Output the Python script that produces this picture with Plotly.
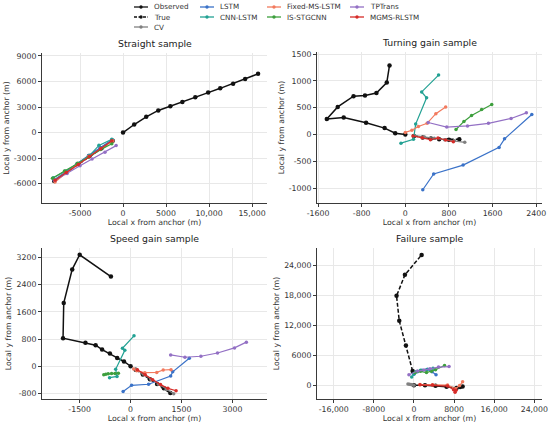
import plotly.graph_objects as go

# ---------------- data ----------------
SERIES = ["Observed", "True", "CV", "LSTM", "CNN-LSTM", "Fixed-MS-LSTM",
          "IS-STGCNN", "TPTrans", "MGMS-RLSTM"]

COLORS = {
    "Observed": "#111111", "True": "#111111", "CV": "#808080",
    "LSTM": "#3a72c8", "CNN-LSTM": "#22a193", "Fixed-MS-LSTM": "#f27a5e",
    "IS-STGCNN": "#3d9f3d", "TPTrans": "#9370c4", "MGMS-RLSTM": "#d62b28",
}

LEGEND_COLUMNS = [["Observed", "True", "CV"],
                  ["LSTM", "CNN-LSTM"],
                  ["Fixed-MS-LSTM", "IS-STGCNN"],
                  ["TPTrans", "MGMS-RLSTM"]]

PANEL_TITLES = ["Straight sample", "Turning gain sample",
                "Speed gain sample", "Failure sample"]

STRAIGHT = {
    "Observed": ([15700, 14200, 12800, 11300, 9900, 8400, 6900, 5500, 4100, 2700, 1300, 0],
                 [6900, 6300, 5750, 5200, 4700, 4150, 3600, 3100, 2600, 1850, 950, 0]),
    "True": ([-1200, -2500, -3900, -5200, -6600, -8000],
             [-950, -1850, -2750, -3700, -4700, -5700]),
    "CV": ([-1200, -2600, -4000, -5300, -6700, -8000],
           [-900, -1800, -2700, -3650, -4600, -5550]),
    "LSTM": ([-1300, -2700, -4000, -5400, -6700, -8000],
             [-850, -1800, -2700, -3700, -4700, -5600]),
    "CNN-LSTM": ([-1300, -2800, -3900, -5300, -6700, -8100],
                 [-780, -1500, -2700, -3700, -4500, -5300]),
    "Fixed-MS-LSTM": ([-1200, -2600, -4000, -5400, -6700, -7900],
                      [-1000, -1900, -2800, -3800, -4800, -5800]),
    "IS-STGCNN": ([-1300, -2600, -4000, -5300, -6800, -8200],
                  [-1300, -2000, -2900, -3600, -4500, -5370]),
    "TPTrans": ([-800, -2100, -3600, -5000, -6500, -7900],
                [-1530, -2300, -3100, -3900, -4800, -5600]),
    "MGMS-RLSTM": ([-1300, -2600, -3900, -5200, -6600, -7900],
                   [-950, -1900, -2800, -3750, -4700, -5600]),
}

TURNING = {
    "Observed": ([-290, -340, -530, -740, -950, -1240, -1440, -1130, -720, -380, -185, 0],
                 [1290, 970, 775, 730, 715, 515, 290, 320, 220, 120, 25, 0]),
    "True": ([160, 320, 470, 620, 800, 990],
             [-25, -55, -75, -90, -95, -90]),
    "CV": ([170, 350, 530, 720, 900, 1090],
           [-20, -45, -70, -95, -115, -145]),
    "LSTM": ([320, 520, 1060, 1720, 1820, 2320],
             [-1030, -735, -570, -240, -80, 375]),
    "CNN-LSTM": ([-80, 150, 190, 390, 300, 610],
                 [-160, -90, 195, 685, 795, 1110]),
    "Fixed-MS-LSTM": ([0, 120, 240, 400, 560, 740],
                      [40, 80, 150, 210, 390, 515]),
    "IS-STGCNN": ([930, 1075, 1215, 1400, 1585],
                  [95, 245, 355, 465, 560]),
    "TPTrans": ([420, 760, 1140, 1525, 1940, 2220],
                [225, 140, 160, 210, 300, 405]),
    "MGMS-RLSTM": ([140, 310, 460, 600, 740, 880],
                   [-25, -60, -95, -65, -100, -135]),
}

SPEED = {
    "Observed": ([-580, -1500, -1720, -1970, -1990, -1330, -1030, -840, -610, -395, -195, 0],
                 [2640, 3280, 2850, 1860, 825, 690, 620, 490, 375, 245, 140, 0]),
    "True": ([150, 360, 570, 780, 980, 1170],
             [-100, -240, -380, -520, -650, -790]),
    "CV": ([150, 370, 600, 820, 1050, 1270],
           [-90, -230, -390, -530, -680, -810]),
    "LSTM": ([-220, 30, 530, 1180, 1240, 1730],
             [-740, -560, -530, -285, -165, 235]),
    "CNN-LSTM": ([-620, -400, -440, -170, -240, 100],
                 [-335, -300, -90, 470, 530, 895]),
    "Fixed-MS-LSTM": ([90, 180, 420, 770, 960, 1190],
                      [-80, -130, -190, -180, -110, -100]),
    "IS-STGCNN": ([-790, -730, -660, -560, -460, -360],
                  [-250, -235, -220, -215, -210, -205]),
    "TPTrans": ([1180, 1600, 2070, 2560, 3060, 3410],
                [335, 265, 295, 390, 540, 710]),
    "MGMS-RLSTM": ([200, 430, 650, 880, 1100, 1340],
                   [-100, -250, -400, -540, -650, -720]),
}

FAILURE = {
    "Observed": ([9700, 9200, 8500, 6500, 4300, 2200, 0],
                 [-250, -350, -550, -300, -100, 0, 0]),
    "True": ([-270, -1600, -2930, -3470, -1800, 1530],
             [2870, 7950, 12900, 17900, 22100, 26100]),
    "CV": ([0, -300, -600, -900, -1200],
           [0, 80, 150, 200, 270]),
    "LSTM": ([0, 700, 1600, 2700, 3600, 4400],
             [2200, 2700, 3000, 3200, 2700, 2100]),
    "CNN-LSTM": ([-450, 0, 400, 1300, 2500, 3800],
                 [1650, 2300, 2700, 3000, 3100, 3400]),
    "Fixed-MS-LSTM": ([1200, 3700, 6700, 8300, 9100, 9700],
                      [150, 100, 50, -700, -50, 700]),
    "IS-STGCNN": ([200, 1300, 2500, 3500, 4300, 6100],
                  [2500, 2800, 2550, 2800, 3100, 3950]),
    "TPTrans": ([-1000, 700, 2000, 3200, 4900, 7000],
                [2100, 2850, 3050, 3300, 3650, 3750]),
    "MGMS-RLSTM": ([1200, 3700, 6700, 7900, 8200, 8400],
                   [100, 50, -150, -900, -1400, -1000]),
}

PANELS = [STRAIGHT, TURNING, SPEED, FAILURE]

# tick values / labels per panel
X_TICKS = [[-5000, 0, 5000, 10000, 15000],
           [-1600, -800, 0, 800, 1600, 2400],
           [-1500, 0, 1500, 3000],
           [-16000, -8000, 0, 8000, 16000, 24000]]
X_TICKTEXT = [["-5000", "0", "5000", "10,000", "15,000"],
              ["-1600", "-800", "0", "800", "1600", "2400"],
              ["-1500", "0", "1500", "3000"],
              ["-16,000", "-8000", "0", "8000", "16,000", "24,000"]]
Y_TICKS = [[-6000, -3000, 0, 3000, 6000, 9000],
           [-1000, -500, 0, 500, 1000, 1500],
           [-800, 0, 800, 1600, 2400, 3200],
           [0, 6000, 12000, 18000, 24000]]
Y_TICKTEXT = [["-6000", "-3000", "0", "3000", "6000", "9000"],
              ["-1000", "-500", "0", "500", "1000", "1500"],
              ["-800", "0", "800", "1600", "2400", "3200"],
              ["0", "6000", "12,000", "18,000", "24,000"]]

X_RANGES = [[-9420, 16740], [-1620, 2507], [-2610, 4018], [-19333, 25533]]
Y_RANGES = [[-8270, 9350], [-1277, 1540], [-963, 3479], [-2741, 27476]]

# ---------------- figure ----------------
W, H = 550, 427
ML, MR, MT, MB = 42, 8, 52, 28
PW, PH = W - ML - MR, H - MT - MB
FONT = "DejaVu Sans"
DASH = "4px,2px"


def px_x(px):
    return (px - ML) / PW


def px_y(py):
    return (H - MB - py) / PH


X_DOMAINS = [[px_x(42), px_x(267)], [px_x(317), px_x(542)],
             [px_x(42), px_x(267)], [px_x(317), px_x(542)]]
Y_DOMAINS = [[px_y(203), px_y(53)], [px_y(203), px_y(52)],
             [px_y(399), px_y(248)], [px_y(399), px_y(248)]]
Y_DOMAINS = [[max(0, a), min(1, b)] for a, b in Y_DOMAINS]

fig = go.Figure()

for p, panel in enumerate(PANELS):
    suffix = "" if p == 0 else str(p + 1)
    for name in SERIES:
        xs, ys = panel[name]
        fig.add_trace(go.Scatter(
            x=xs, y=ys, mode="lines+markers", name=name,
            line=dict(color=COLORS[name], width=1.5 if name in ("Observed", "True") else 1.2,
                      dash=DASH if name == "True" else "solid"),
            marker=dict(color=COLORS[name], size=4.5 if name in ("Observed", "True") else 3.5),
            xaxis="x" + suffix, yaxis="y" + suffix, showlegend=False,
        ))

axis_common = dict(
    showline=True, linecolor="#3a3a3a", linewidth=1, mirror=False,
    showgrid=True, gridcolor="#e8e8e8", gridwidth=1, zeroline=False,
    ticks="outside", ticklen=3, tickcolor="#3a3a3a", tickwidth=1,
    tickfont=dict(family=FONT, size=7.8, color="#333333"),
    tickmode="array", automargin=False,
)

layout = dict(
    width=W, height=H, paper_bgcolor="white", plot_bgcolor="white",
    margin=dict(l=ML, r=MR, t=MT, b=MB),
    font=dict(family=FONT, color="#222222"),
    showlegend=False,
)

for p in range(4):
    suffix = "" if p == 0 else str(p + 1)
    layout["xaxis" + suffix] = dict(
        axis_common, domain=X_DOMAINS[p], range=X_RANGES[p],
        tickvals=X_TICKS[p], ticktext=X_TICKTEXT[p], anchor="y" + suffix,
        title=dict(text="Local x from anchor (m)", standoff=2,
                   font=dict(family=FONT, size=7.8, color="#333333")),
    )
    layout["yaxis" + suffix] = dict(
        axis_common, domain=Y_DOMAINS[p], range=Y_RANGES[p],
        tickvals=Y_TICKS[p], ticktext=Y_TICKTEXT[p], anchor="x" + suffix,
        title=dict(text="Local y from anchor (m)", standoff=3,
                   font=dict(family=FONT, size=7.8, color="#333333")),
    )

fig.update_layout(**layout)

annotations = []
for p in range(4):
    annotations.append(dict(
        text=PANEL_TITLES[p], xref="paper", yref="paper",
        x=sum(X_DOMAINS[p]) / 2, y=Y_DOMAINS[p][1], yshift=2,
        xanchor="center", yanchor="bottom", showarrow=False,
        font=dict(family=FONT, size=9.3, color="#222222"),
    ))

# ---- legend drawn as a compact 4-column key (matplotlib style) ----
shapes = []
COL_SYMBOL_X = [134, 200, 267, 350]
ROW_Y = [7, 17, 27]
SYM_LEN = 14
for c, column in enumerate(LEGEND_COLUMNS):
    for r, name in enumerate(column):
        x0 = COL_SYMBOL_X[c]
        yy = ROW_Y[r]
        shapes.append(dict(
            type="line", xref="paper", yref="paper",
            x0=px_x(x0), x1=px_x(x0 + SYM_LEN), y0=px_y(yy), y1=px_y(yy),
            line=dict(color=COLORS[name], width=1.3,
                      dash="3px,1.5px" if name == "True" else "solid"),
        ))
        rad = 1.7
        xm = x0 + SYM_LEN / 2
        shapes.append(dict(
            type="circle", xref="paper", yref="paper",
            x0=px_x(xm - rad), x1=px_x(xm + rad), y0=px_y(yy + rad), y1=px_y(yy - rad),
            fillcolor=COLORS[name], line=dict(color=COLORS[name], width=0),
        ))
        annotations.append(dict(
            text=name, xref="paper", yref="paper",
            x=px_x(x0 + SYM_LEN + 4), y=px_y(yy), xanchor="left", yanchor="middle",
            showarrow=False, font=dict(family=FONT, size=7.2, color="#333333"),
        ))

fig.update_layout(annotations=annotations, shapes=shapes)

fig.write_html("out.html",
               config={"displayModeBar": False},
               post_script="document.body.style.margin='0';document.body.style.overflow='hidden';")
